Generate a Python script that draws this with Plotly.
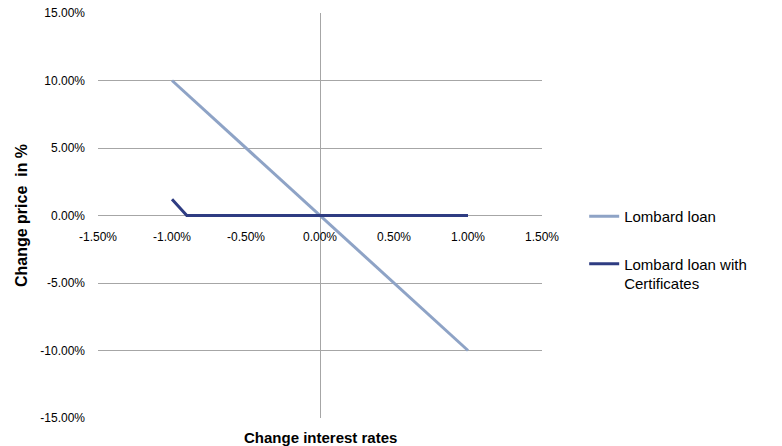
import plotly.graph_objects as go

# Change in interest rates (percentage points)
rate_change = [-1.0, -0.9, -0.8, -0.7, -0.6, -0.5, -0.4, -0.3, -0.2, -0.1, 0.0,
               0.1, 0.2, 0.3, 0.4, 0.5, 0.6, 0.7, 0.8, 0.9, 1.0]

# Price change in % for each strategy
lombard_loan = [10.0, 9.0, 8.0, 7.0, 6.0, 5.0, 4.0, 3.0, 2.0, 1.0, 0.0,
                -1.0, -2.0, -3.0, -4.0, -5.0, -6.0, -7.0, -8.0, -9.0, -10.0]
lombard_certificates = [1.2, 0.0, 0.0, 0.0, 0.0, 0.0, 0.0, 0.0, 0.0, 0.0, 0.0,
                        0.0, 0.0, 0.0, 0.0, 0.0, 0.0, 0.0, 0.0, 0.0, 0.0]

x_ticks = [-1.5, -1.0, -0.5, 0.0, 0.5, 1.0, 1.5]
y_ticks = [-15, -10, -5, 0, 5, 10, 15]

FONT = "Liberation Sans, Arial, sans-serif"
GRID = "#A6A6A6"

fig = go.Figure()
fig.add_trace(go.Scatter(
    x=rate_change, y=lombard_loan, mode="lines", name="Lombard loan",
    line=dict(color="#8EA3C6", width=3), legendgroup="a",
))
fig.add_trace(go.Scatter(
    x=rate_change, y=lombard_certificates, mode="lines",
    name="Lombard loan with<br>Certificates",
    line=dict(color="#2E3C82", width=3), legendgroup="b",
))

fig.update_layout(
    width=782, height=446,
    margin=dict(l=98, r=240, t=13, b=28),
    paper_bgcolor="white", plot_bgcolor="white",
    font=dict(family=FONT, color="#000000"),
    showlegend=True,
    legend=dict(
        x=1.095, y=0.415, xanchor="left", yanchor="middle",
        font=dict(family=FONT, size=15, color="#000000"),
        valign="top", tracegroupgap=25, itemwidth=30,
        bgcolor="rgba(0,0,0,0)",
    ),
    xaxis=dict(
        range=[-1.5, 1.5], tickvals=x_ticks,
        ticktext=[f"{v:.2f}%" for v in x_ticks],
        showgrid=False, showline=False, ticks="",
        zeroline=True, zerolinecolor=GRID, zerolinewidth=1,
        anchor="free", position=0.5, automargin=False,
        tickfont=dict(family=FONT, size=12, color="#000000"),
        ticklabelstandoff=12,
    ),
    yaxis=dict(
        range=[-15, 15], tickvals=y_ticks,
        ticktext=[f"{v:.2f}%" for v in y_ticks],
        showgrid=True, gridcolor=GRID, gridwidth=1,
        zeroline=True, zerolinecolor=GRID, zerolinewidth=1,
        showline=False, ticks="", automargin=False,
        tickfont=dict(family=FONT, size=12, color="#000000"),
        ticklabelstandoff=12,
        title=dict(text="<b>Change price  in %</b>", standoff=8,
                   font=dict(family=FONT, size=16, color="#000000")),
    ),
    annotations=[dict(
        text="<b>Change interest rates</b>", xref="paper", yref="paper",
        x=0.5, y=-0.022, xanchor="center", yanchor="top", showarrow=False,
        font=dict(family=FONT, size=15, color="#000000"),
    )],
)

fig.write_html("out.html")
